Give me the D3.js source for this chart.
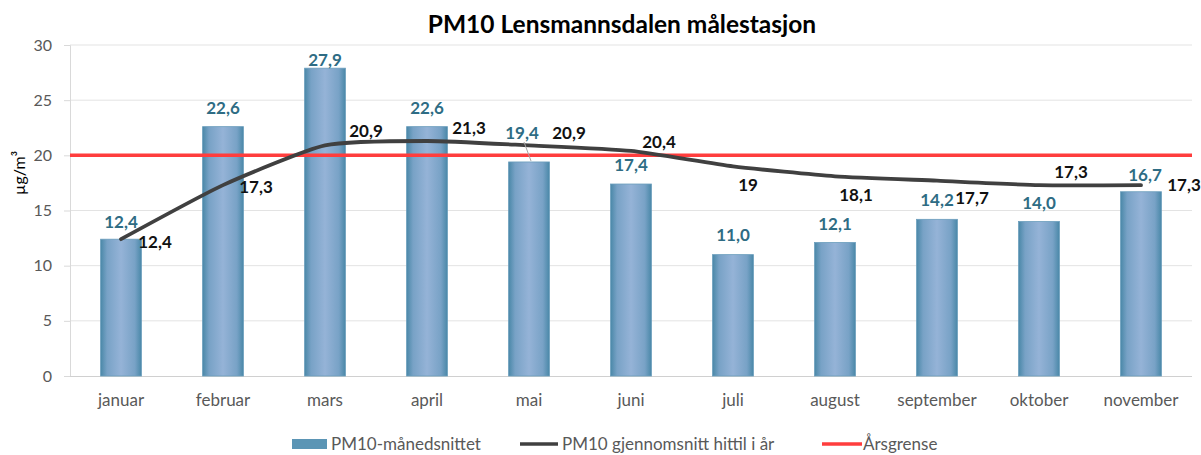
<!DOCTYPE html>
<html>
<head>
<meta charset="utf-8">
<script src="https://cdn.jsdelivr.net/npm/d3@7"></script>
<style>
  html, body { margin: 0; padding: 0; background: #fff; }
  svg { display: block; font-family: Lato, "Open Sans", sans-serif; }
</style>
</head>
<body>
<svg id="chart" width="1201" height="455"></svg>
<script>
// ---- data ----
const months = ["januar","februar","mars","april","mai","juni","juli","august","september","oktober","november"];
const monthlyAvg = [12.4, 22.6, 27.9, 22.6, 19.4, 17.4, 11.0, 12.1, 14.2, 14.0, 16.7];
const ytdAvg = [12.4, 17.3, 20.9, 21.3, 20.9, 20.4, 19, 18.1, 17.7, 17.3, 17.3];
const ytdLabels = ["12,4","17,3","20,9","21,3","20,9","20,4","19","18,1","17,7","17,3","17,3"];
const annualLimit = 20;
const yTicks = [0, 5, 10, 15, 20, 25, 30];
const seriesNames = ["PM10-månedsnittet", "PM10 gjennomsnitt hittil i år", "Årsgrense"];
const titleText = "PM10 Lensmannsdalen målestasjon";
const yTitle = "µg/m³";

// ---- manual label placement (as in the reference) ----
const barLabelDx = [0, 0, 0, 0, -7, 0, 0, 0, 0, 0, 4];
const barLabelDy = [-17, -19, -8, -19, -29, -19, -20, -19, -19, -19, -17];
const lineLabelDx = [34, 33, 41, 42, 40, 28, 15, 21, 35, 32, 43];
const lineLabelDy = [3, 2, -15, -13, -13, -9, 19, 19, 17, -13, 0];

const fmt = v => d3.format(".1f")(v).replace(".", ",");

const svg = d3.select("#chart");
const plotLeft = 70, plotRight = 1192, plotTop = 45, plotBottom = 376;

const x = d3.scaleBand().domain(months).range([plotLeft, plotRight]).paddingInner(0.6).paddingOuter(0.3);
const y = d3.scaleLinear().domain([0, 30]).range([plotBottom, plotTop]);

// gradient for bars
const defs = svg.append("defs");
const grad = defs.append("linearGradient").attr("id", "barGrad").attr("x1", "0").attr("x2", "1").attr("y1", "0").attr("y2", "0");
[["0%", "#4a88a8"], ["16%", "#78a2c6"], ["50%", "#95b3d7"], ["84%", "#78a2c6"], ["100%", "#4a88a8"]]
  .forEach(([o, c]) => grad.append("stop").attr("offset", o).attr("stop-color", c));

// gridlines
svg.append("g")
  .selectAll("line").data(yTicks.filter(t => t > 0)).join("line")
  .attr("x1", plotLeft).attr("x2", plotRight)
  .attr("y1", d => y(d)).attr("y2", d => y(d))
  .attr("stroke", "#e3e3e3").attr("stroke-width", 1);

// y axis
const yAxis = svg.append("g").attr("transform", `translate(${plotLeft},0)`)
  .call(d3.axisLeft(y).tickValues(yTicks).tickSize(6).tickPadding(12));
yAxis.select(".domain").attr("stroke", "#d9d9d9");
yAxis.selectAll(".tick line").attr("stroke", "#d9d9d9");
yAxis.selectAll(".tick text").attr("fill", "#595959").style("font-size", "16px").style("font-family", "Lato");

// x axis
const xAxis = svg.append("g").attr("transform", `translate(0,${plotBottom})`)
  .call(d3.axisBottom(x).tickSize(0).tickPadding(18));
xAxis.select(".domain").attr("stroke", "#d0d0d0").attr("d", `M${plotLeft},0.5H${plotRight}`);
xAxis.selectAll(".tick text").attr("fill", "#595959").style("font-size", "17px").style("font-family", "Lato");

// bars
svg.append("g").selectAll("rect").data(monthlyAvg).join("rect")
  .attr("x", (d, i) => x(months[i]))
  .attr("y", d => y(d))
  .attr("width", x.bandwidth())
  .attr("height", d => y(0) - y(d))
  .attr("fill", "url(#barGrad)")
  .attr("stroke", "#6a9dbc").attr("stroke-width", 0.8);

// annual limit line
svg.append("line")
  .attr("x1", plotLeft).attr("x2", plotRight)
  .attr("y1", y(annualLimit)).attr("y2", y(annualLimit))
  .attr("stroke", "#ff3d3d").attr("stroke-width", 3.5);

// ytd line
const line = d3.line()
  .x((d, i) => x(months[i]) + x.bandwidth() / 2)
  .y(d => y(d))
  .curve(d3.curveCardinal.tension(0.45));
svg.append("path").datum(ytdAvg)
  .attr("d", line)
  .attr("fill", "none").attr("stroke", "#404040").attr("stroke-width", 3.8)
  .attr("stroke-linecap", "round");

// leader line for mai bar label
const maiIdx = 4;
svg.append("line")
  .attr("x1", x(months[maiIdx]) + x.bandwidth() / 2 + barLabelDx[maiIdx] + 2)
  .attr("y1", y(monthlyAvg[maiIdx]) + barLabelDy[maiIdx] + 9)
  .attr("x2", x(months[maiIdx]) + x.bandwidth() / 2 + 2)
  .attr("y2", y(monthlyAvg[maiIdx]) - 1)
  .attr("stroke", "#a6a6a6").attr("stroke-width", 1);

// bar labels
svg.append("g").selectAll("text").data(monthlyAvg).join("text")
  .attr("x", (d, i) => x(months[i]) + x.bandwidth() / 2 + barLabelDx[i])
  .attr("y", (d, i) => y(d) + barLabelDy[i])
  .attr("dy", "0.36em")
  .attr("text-anchor", "middle")
  .attr("fill", "#2e6c84").style("font-weight", "bold").style("font-size", "17px")
  .text(d => fmt(d));

// line labels
svg.append("g").selectAll("text").data(ytdAvg).join("text")
  .attr("x", (d, i) => x(months[i]) + x.bandwidth() / 2 + lineLabelDx[i])
  .attr("y", (d, i) => y(d) + lineLabelDy[i])
  .attr("dy", "0.36em")
  .attr("text-anchor", "middle")
  .attr("fill", "#111").style("font-weight", "bold").style("font-size", "17px")
  .text((d, i) => ytdLabels[i]);

// title
svg.append("text")
  .attr("x", 622).attr("y", 33)
  .attr("text-anchor", "middle")
  .attr("fill", "#000").style("font-weight", "bold").style("font-size", "24.5px")
  .text(titleText);

// y title
svg.append("text")
  .attr("transform", "translate(25,173) rotate(-90)")
  .attr("text-anchor", "middle")
  .attr("fill", "#000").style("font-size", "16px")
  .text(yTitle);

// legend
const lg = svg.append("g");
const legendY = 444;
lg.append("rect").attr("x", 292).attr("y", legendY - 5).attr("width", 35).attr("height", 10)
  .attr("fill", "#5b95b5");
lg.append("text").attr("x", 331).attr("y", legendY).attr("dy", "0.36em")
  .attr("fill", "#595959").style("font-size", "17px").text(seriesNames[0]);
lg.append("line").attr("x1", 520).attr("x2", 558).attr("y1", legendY).attr("y2", legendY)
  .attr("stroke", "#404040").attr("stroke-width", 3.5);
lg.append("text").attr("x", 562).attr("y", legendY).attr("dy", "0.36em")
  .attr("fill", "#595959").style("font-size", "17px").text(seriesNames[1]);
lg.append("line").attr("x1", 822).attr("x2", 862).attr("y1", legendY).attr("y2", legendY)
  .attr("stroke", "#ff3d3d").attr("stroke-width", 3.5);
lg.append("text").attr("x", 863).attr("y", legendY).attr("dy", "0.36em")
  .attr("fill", "#595959").style("font-size", "17px").text(seriesNames[2]);
</script>
</body>
</html>
